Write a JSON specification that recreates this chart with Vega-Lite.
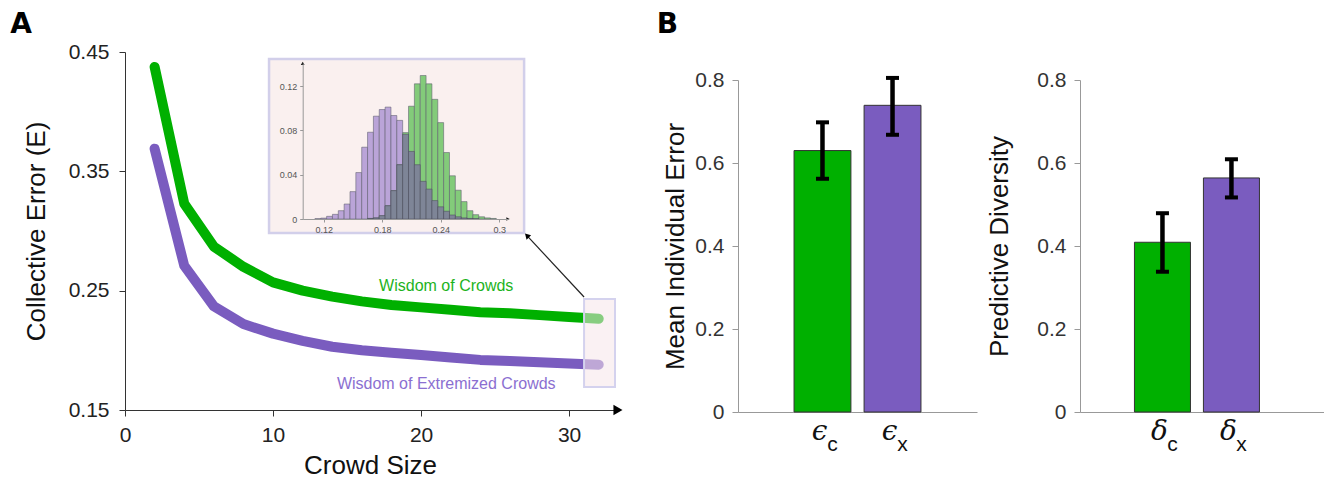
{
  "$schema": "https://vega.github.io/schema/vega-lite/v6.json",
  "background": "white",
  "padding": {"left": 10, "top": 10, "right": 0, "bottom": 0},
  "spacing": 33,
  "config": {
    "view": {"stroke": null},
    "font": "Liberation Sans",
    "axis": {"grid": false, "titleFontWeight": "normal", "titleColor": "#111", "labelColor": "#222"},
    "title": {"font": "DejaVu Sans", "fontWeight": "bold", "fontSize": 28, "color": "#000"}
  },
  "hconcat": [
    {
      "width": 490,
      "height": 358,
      "title": {"text": "A", "anchor": "start", "frame": "bounds", "offset": 2, "dx": -13},
      "layer": [
        {
          "layer": [
            {
              "data": {"values": [{"x1": 9.73, "x2": 26.96, "y1": 0.2983, "y2": 0.4441}]},
              "mark": {"type": "rect", "fill": "#faf0ef", "stroke": "#d2cfea", "strokeWidth": 2.5},
              "encoding": {
                "x": {"field": "x1", "type": "quantitative", "scale": {"domain": [0, 33.1], "nice": false}},
                "x2": {"field": "x2"},
                "y": {"field": "y1", "type": "quantitative", "scale": {"domain": [0.15, 0.45], "nice": false, "zero": false}},
                "y2": {"field": "y2"}
              }
            },
            {
              "data": {"values": [
                {"size": 2, "err": 0.4375, "series": "Wisdom of Crowds"},
                {"size": 4, "err": 0.323, "series": "Wisdom of Crowds"},
                {"size": 6, "err": 0.287, "series": "Wisdom of Crowds"},
                {"size": 8, "err": 0.27, "series": "Wisdom of Crowds"},
                {"size": 10, "err": 0.257, "series": "Wisdom of Crowds"},
                {"size": 12, "err": 0.25, "series": "Wisdom of Crowds"},
                {"size": 14, "err": 0.245, "series": "Wisdom of Crowds"},
                {"size": 16, "err": 0.241, "series": "Wisdom of Crowds"},
                {"size": 18, "err": 0.238, "series": "Wisdom of Crowds"},
                {"size": 20, "err": 0.236, "series": "Wisdom of Crowds"},
                {"size": 22, "err": 0.234, "series": "Wisdom of Crowds"},
                {"size": 24, "err": 0.232, "series": "Wisdom of Crowds"},
                {"size": 26, "err": 0.231, "series": "Wisdom of Crowds"},
                {"size": 28, "err": 0.2295, "series": "Wisdom of Crowds"},
                {"size": 30, "err": 0.228, "series": "Wisdom of Crowds"},
                {"size": 32, "err": 0.2265, "series": "Wisdom of Crowds"},
                {"size": 2, "err": 0.369, "series": "Wisdom of Extremized Crowds"},
                {"size": 4, "err": 0.271, "series": "Wisdom of Extremized Crowds"},
                {"size": 6, "err": 0.237, "series": "Wisdom of Extremized Crowds"},
                {"size": 8, "err": 0.222, "series": "Wisdom of Extremized Crowds"},
                {"size": 10, "err": 0.214, "series": "Wisdom of Extremized Crowds"},
                {"size": 12, "err": 0.208, "series": "Wisdom of Extremized Crowds"},
                {"size": 14, "err": 0.203, "series": "Wisdom of Extremized Crowds"},
                {"size": 16, "err": 0.2, "series": "Wisdom of Extremized Crowds"},
                {"size": 18, "err": 0.198, "series": "Wisdom of Extremized Crowds"},
                {"size": 20, "err": 0.196, "series": "Wisdom of Extremized Crowds"},
                {"size": 22, "err": 0.194, "series": "Wisdom of Extremized Crowds"},
                {"size": 24, "err": 0.192, "series": "Wisdom of Extremized Crowds"},
                {"size": 26, "err": 0.191, "series": "Wisdom of Extremized Crowds"},
                {"size": 28, "err": 0.19, "series": "Wisdom of Extremized Crowds"},
                {"size": 30, "err": 0.189, "series": "Wisdom of Extremized Crowds"},
                {"size": 32, "err": 0.188, "series": "Wisdom of Extremized Crowds"}
              ]},
              "mark": {"type": "line", "strokeWidth": 10, "strokeCap": "round", "strokeJoin": "round"},
              "encoding": {
                "x": {"field": "size", "type": "quantitative", "scale": {"domain": [0, 33.1], "nice": false},
                  "axis": {"values": [0, 10, 20, 30], "title": "Crowd Size", "titleFontSize": 26, "titlePadding": 7, "labelFontSize": 21, "labelPadding": 8, "tickSize": 6, "tickColor": "#333", "domainColor": "#333", "labelFlush": false}},
                "y": {"field": "err", "type": "quantitative", "scale": {"domain": [0.15, 0.45], "nice": false, "zero": false},
                  "axis": {"values": [0.15, 0.25, 0.35, 0.45], "format": ".2f", "title": "Collective Error (E)", "titleFontSize": 26, "titlePadding": 19, "labelFontSize": 21, "labelPadding": 10, "tickSize": 6, "tickColor": "#333", "domainColor": "#333", "labelFlush": false}},
                "color": {"field": "series", "type": "nominal", "scale": {"domain": ["Wisdom of Crowds", "Wisdom of Extremized Crowds"], "range": ["#00b000", "#7a5cbf"]}, "legend": null}
              }
            },
            {
              "data": {"values": [{"x1": 31.01, "x2": 33.1, "y1": 0.1693, "y2": 0.243}]},
              "mark": {"type": "rect", "fill": "#f6e6ea", "fillOpacity": 0.55, "stroke": "#d4d2ee", "strokeWidth": 2},
              "encoding": {
                "x": {"field": "x1", "type": "quantitative"},
                "x2": {"field": "x2"},
                "y": {"field": "y1", "type": "quantitative"},
                "y2": {"field": "y2"}
              }
            },
            {
              "data": {"values": [{"x1": 31.01, "x2": 27.2, "y1": 0.2447, "y2": 0.2955}]},
              "mark": {"type": "rule", "color": "#222", "strokeWidth": 1.2},
              "encoding": {
                "x": {"field": "x1", "type": "quantitative"},
                "x2": {"field": "x2"},
                "y": {"field": "y1", "type": "quantitative"},
                "y2": {"field": "y2"}
              }
            },
            {
              "data": {"values": [{"x": 27.15, "y": 0.2962, "a": 316, "s": "triangle-up", "z": 40}, {"x": 33.3, "y": 0.15, "a": 0, "s": "triangle-right", "z": 110}]},
              "mark": {"type": "point", "filled": true, "color": "#000", "opacity": 1},
              "encoding": {
                "x": {"field": "x", "type": "quantitative"},
                "y": {"field": "y", "type": "quantitative"},
                "angle": {"field": "a", "type": "quantitative", "scale": null},
                "shape": {"field": "s", "type": "nominal", "scale": null},
                "size": {"field": "z", "type": "quantitative", "scale": null}
              }
            },
            {
              "data": {"values": [
                {"x": 21.7, "y": 0.2542, "t": "Wisdom of Crowds", "c": "#1db31d"},
                {"x": 21.7, "y": 0.1718, "t": "Wisdom of Extremized Crowds", "c": "#8b6fd1"}
              ]},
              "mark": {"type": "text", "fontSize": 16, "align": "center", "baseline": "middle"},
              "encoding": {
                "x": {"field": "x", "type": "quantitative"},
                "y": {"field": "y", "type": "quantitative"},
                "text": {"field": "t"},
                "color": {"field": "c", "type": "nominal", "scale": null}
              }
            }
          ]
        },
        {
          "data": {"values": [
            {"b0": 0.111, "b1": 0.117, "p": 0.0003, "g": null, "o": null},
            {"b0": 0.117, "b1": 0.123, "p": 0.0008, "g": null, "o": null},
            {"b0": 0.123, "b1": 0.129, "p": 0.0024, "g": null, "o": null},
            {"b0": 0.129, "b1": 0.135, "p": 0.0042, "g": null, "o": null},
            {"b0": 0.135, "b1": 0.141, "p": 0.0075, "g": null, "o": null},
            {"b0": 0.141, "b1": 0.147, "p": 0.0135, "g": null, "o": null},
            {"b0": 0.147, "b1": 0.153, "p": 0.0247, "g": null, "o": null},
            {"b0": 0.153, "b1": 0.159, "p": 0.0419, "g": null, "o": null},
            {"b0": 0.159, "b1": 0.165, "p": 0.0648, "g": null, "o": null},
            {"b0": 0.165, "b1": 0.171, "p": 0.0783, "g": 0.0005, "o": 0.0005},
            {"b0": 0.171, "b1": 0.177, "p": 0.0928, "g": 0.001, "o": 0.001},
            {"b0": 0.177, "b1": 0.183, "p": 0.0988, "g": 0.003, "o": 0.003},
            {"b0": 0.183, "b1": 0.189, "p": 0.101, "g": 0.012, "o": 0.012},
            {"b0": 0.189, "b1": 0.195, "p": 0.0934, "g": 0.0256, "o": 0.0256},
            {"b0": 0.195, "b1": 0.201, "p": 0.089, "g": 0.049, "o": 0.049},
            {"b0": 0.201, "b1": 0.207, "p": 0.0765, "g": 0.078, "o": 0.0765},
            {"b0": 0.207, "b1": 0.213, "p": 0.061, "g": 0.1018, "o": 0.061},
            {"b0": 0.213, "b1": 0.219, "p": 0.049, "g": 0.122, "o": 0.049},
            {"b0": 0.219, "b1": 0.225, "p": 0.034, "g": 0.1295, "o": 0.034},
            {"b0": 0.225, "b1": 0.231, "p": 0.027, "g": 0.122, "o": 0.027},
            {"b0": 0.231, "b1": 0.237, "p": 0.0166, "g": 0.108, "o": 0.0166},
            {"b0": 0.237, "b1": 0.243, "p": 0.011, "g": 0.087, "o": 0.011},
            {"b0": 0.243, "b1": 0.249, "p": 0.007, "g": 0.06, "o": 0.007},
            {"b0": 0.249, "b1": 0.255, "p": 0.0036, "g": 0.039, "o": 0.0036},
            {"b0": 0.255, "b1": 0.261, "p": 0.002, "g": 0.026, "o": 0.002},
            {"b0": 0.261, "b1": 0.267, "p": 0.001, "g": 0.0157, "o": 0.001},
            {"b0": 0.267, "b1": 0.273, "p": 0.0005, "g": 0.0075, "o": 0.0005},
            {"b0": 0.273, "b1": 0.279, "p": 0.0002, "g": 0.0039, "o": 0.0002},
            {"b0": 0.279, "b1": 0.285, "p": null, "g": 0.002, "o": null},
            {"b0": 0.285, "b1": 0.291, "p": null, "g": 0.001, "o": null},
            {"b0": 0.291, "b1": 0.297, "p": null, "g": 0.0005, "o": null}
          ]},
          "layer": [
            {
              "mark": {"type": "bar", "fill": "#baa4d8", "stroke": "#5d5d6e", "strokeWidth": 0.7, "strokeOpacity": 0.8},
              "encoding": {
                "x": {"field": "b0", "type": "quantitative", "scale": {"domain": [0.0985, 0.3093], "range": [177.7, 383.3], "nice": false, "zero": false},
                  "axis": {"orient": "bottom", "offset": -191, "zindex": 1, "values": [0.12, 0.18, 0.24, 0.3], "format": "~g", "title": null, "labelFontSize": 9, "labelColor": "#555", "labelPadding": 3, "tickSize": 3, "tickColor": "#999", "domainColor": "#999", "labelFlush": false}},
                "x2": {"field": "b1"},
                "y": {"field": "p", "type": "quantitative", "scale": {"domain": [0, 0.1408], "range": [167, 11], "nice": false},
                  "axis": {"orient": "left", "offset": -177.7, "zindex": 1, "values": [0, 0.04, 0.08, 0.12], "format": "~g", "title": null, "labelFontSize": 9, "labelColor": "#555", "labelPadding": 3, "tickSize": 3, "tickColor": "#999", "domainColor": "#999", "labelFlush": false}},
                "y2": {"datum": 0}
              }
            },
            {
              "mark": {"type": "bar", "fill": "#83cb7a", "stroke": "#5d5d6e", "strokeWidth": 0.7, "strokeOpacity": 0.8},
              "encoding": {
                "x": {"field": "b0", "type": "quantitative"},
                "x2": {"field": "b1"},
                "y": {"field": "g", "type": "quantitative"},
                "y2": {"datum": 0}
              }
            },
            {
              "mark": {"type": "bar", "fill": "#7e8597", "stroke": "#4d4d5e", "strokeWidth": 0.7, "strokeOpacity": 0.8},
              "encoding": {
                "x": {"field": "b0", "type": "quantitative"},
                "x2": {"field": "b1"},
                "y": {"field": "o", "type": "quantitative"},
                "y2": {"datum": 0}
              }
            },
            {
              "data": {"values": [{"x": 0.309, "y": 0, "a": 90}, {"x": 0.0985, "y": 0.1405, "a": 0}]},
              "mark": {"type": "point", "shape": "triangle-up", "filled": true, "color": "#111", "opacity": 1, "size": 14},
              "encoding": {
                "x": {"field": "x", "type": "quantitative"},
                "y": {"field": "y", "type": "quantitative"},
                "angle": {"field": "a", "type": "quantitative", "scale": null}
              }
            }
          ]
        }
      ],
      "resolve": {"scale": {"x": "independent", "y": "independent"}, "axis": {"x": "independent", "y": "independent"}}
    },
    {
      "title": {"text": "B", "anchor": "start", "frame": "bounds", "offset": 8, "dx": -6},
      "spacing": 11,
      "vconcat": [
        {
          "width": 1,
          "height": 1,
          "data": {"values": [{"s": " "}]},
          "mark": {"type": "text"},
          "encoding": {"text": {"field": "s"}}
        },
        {
          "spacing": 9,
          "hconcat": [
            {
              "width": 239,
              "height": 332,
              "data": {"values": [
                {"sym": "ϵc", "grp": "c", "v": 0.63, "lo": 0.562, "hi": 0.698},
                {"sym": "ϵx", "grp": "x", "v": 0.739, "lo": 0.668, "hi": 0.805}
              ]},
              "layer": [
                {
                  "mark": {"type": "bar", "stroke": "#333", "strokeWidth": 1},
                  "encoding": {
                    "x": {"field": "sym", "type": "nominal", "sort": null, "scale": {"paddingInner": 0.188, "paddingOuter": 0.8},
                      "axis": {"title": null, "labelExpr": "substring(datum.label, 0, 1)", "labelAngle": 0, "labelFont": "DejaVu Serif", "labelFontStyle": "italic", "labelFontSize": 28, "labelColor": "#111", "labelBaseline": "alphabetic", "labelPadding": 27, "labelOffset": -3, "ticks": false, "domainColor": "#999"}},
                    "y": {"field": "v", "type": "quantitative", "scale": {"domain": [0, 0.8], "nice": false},
                      "axis": {"values": [0, 0.2, 0.4, 0.6, 0.8], "format": "~g", "title": "Mean Individual Error", "titleFontSize": 26, "titlePadding": 6, "labelFontSize": 21, "labelColor": "#333", "labelPadding": 8, "tickSize": 6, "tickColor": "#999", "domainColor": "#999", "labelFlush": false}},
                    "color": {"field": "grp", "type": "nominal", "scale": {"domain": ["c", "x"], "range": ["#00b900", "#7b61bf"]}, "legend": null}
                  }
                },
                {
                  "mark": {"type": "rule", "color": "#000", "strokeWidth": 4.5},
                  "encoding": {
                    "x": {"field": "sym", "type": "nominal", "sort": null,
                      "axis": {"orient": "bottom", "title": null, "labelExpr": "substring(datum.label, 1)", "labelAngle": 0, "labelFontSize": 21, "labelColor": "#111", "labelBaseline": "alphabetic", "labelPadding": 38, "labelOffset": 10, "ticks": false, "domain": false}},
                    "y": {"field": "lo", "type": "quantitative"},
                    "y2": {"field": "hi"}
                  }
                },
                {
                  "mark": {"type": "tick", "color": "#000", "thickness": 4, "size": 13, "opacity": 1},
                  "encoding": {
                    "x": {"field": "sym", "type": "nominal", "sort": null, "axis": null},
                    "y": {"field": "lo", "type": "quantitative"}
                  }
                },
                {
                  "mark": {"type": "tick", "color": "#000", "thickness": 4, "size": 13, "opacity": 1},
                  "encoding": {
                    "x": {"field": "sym", "type": "nominal", "sort": null, "axis": null},
                    "y": {"field": "hi", "type": "quantitative"}
                  }
                }
              ],
              "resolve": {"axis": {"x": "independent"}}
            },
            {
              "width": 246,
              "height": 332,
              "data": {"values": [
                {"sym": "δc", "grp": "c", "v": 0.409, "lo": 0.338, "hi": 0.479},
                {"sym": "δx", "grp": "x", "v": 0.564, "lo": 0.517, "hi": 0.609}
              ]},
              "layer": [
                {
                  "mark": {"type": "bar", "stroke": "#333", "strokeWidth": 1},
                  "encoding": {
                    "x": {"field": "sym", "type": "nominal", "sort": null, "scale": {"paddingInner": 0.188, "paddingOuter": 0.877, "align": 0.45},
                      "axis": {"title": null, "labelExpr": "substring(datum.label, 0, 1)", "labelAngle": 0, "labelFont": "DejaVu Serif", "labelFontStyle": "italic", "labelFontSize": 28, "labelColor": "#111", "labelBaseline": "alphabetic", "labelPadding": 27, "labelOffset": -3, "ticks": false, "domainColor": "#999"}},
                    "y": {"field": "v", "type": "quantitative", "scale": {"domain": [0, 0.8], "nice": false},
                      "axis": {"values": [0, 0.2, 0.4, 0.6, 0.8], "format": "~g", "title": "Predictive Diversity", "titleFontSize": 26, "titlePadding": 24, "labelFontSize": 21, "labelColor": "#333", "labelPadding": 8, "tickSize": 6, "tickColor": "#999", "domainColor": "#999", "labelFlush": false}},
                    "color": {"field": "grp", "type": "nominal", "scale": {"domain": ["c", "x"], "range": ["#00b900", "#7b61bf"]}, "legend": null}
                  }
                },
                {
                  "mark": {"type": "rule", "color": "#000", "strokeWidth": 4.5},
                  "encoding": {
                    "x": {"field": "sym", "type": "nominal", "sort": null,
                      "axis": {"orient": "bottom", "title": null, "labelExpr": "substring(datum.label, 1)", "labelAngle": 0, "labelFontSize": 21, "labelColor": "#111", "labelBaseline": "alphabetic", "labelPadding": 38, "labelOffset": 10, "ticks": false, "domain": false}},
                    "y": {"field": "lo", "type": "quantitative"},
                    "y2": {"field": "hi"}
                  }
                },
                {
                  "mark": {"type": "tick", "color": "#000", "thickness": 4, "size": 13, "opacity": 1},
                  "encoding": {
                    "x": {"field": "sym", "type": "nominal", "sort": null, "axis": null},
                    "y": {"field": "lo", "type": "quantitative"}
                  }
                },
                {
                  "mark": {"type": "tick", "color": "#000", "thickness": 4, "size": 13, "opacity": 1},
                  "encoding": {
                    "x": {"field": "sym", "type": "nominal", "sort": null, "axis": null},
                    "y": {"field": "hi", "type": "quantitative"}
                  }
                }
              ],
              "resolve": {"axis": {"x": "independent"}}
            }
          ]
        }
      ]
    }
  ]
}
